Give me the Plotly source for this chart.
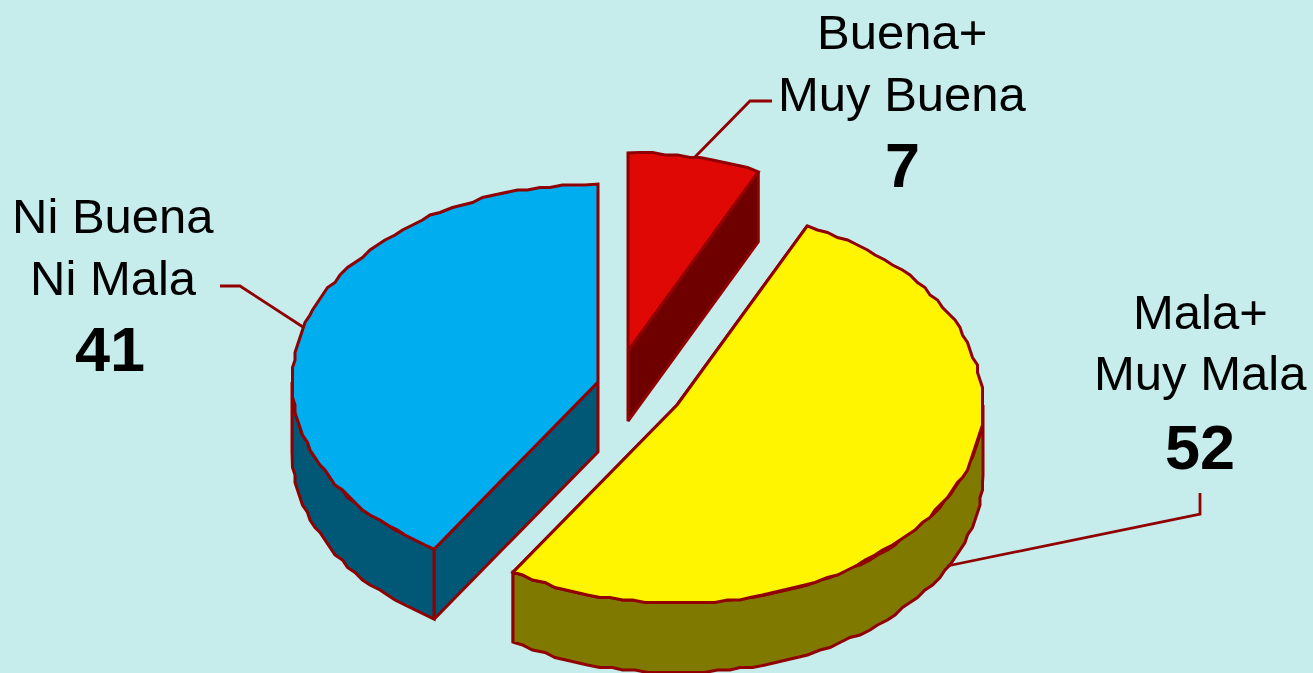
import numpy as np
import plotly.graph_objects as go

categories = ["Buena+ Muy Buena", "Mala+ Muy Mala", "Ni Buena Ni Mala"]
values = [7, 52, 41]
label_lines = [["Buena+", "Muy Buena"], ["Mala+", "Muy Mala"], ["Ni Buena", "Ni Mala"]]

top_colors = ["#DF0805", "#FFF500", "#00ADEE"]
side_colors = ["#6E0000", "#7F7900", "#005776"]
BORDER = "#900000"
BG = "#C6ECEB"

RX, RY, DEPTH = 306, 198, 70
apexes = [(628, 351), (677, 405), (598, 382)]


def rim(a, apex):
    return (apex[0] + RX * np.sin(a), apex[1] - RY * np.cos(a))


def arc(a0, a1, apex, dy=0):
    n = max(2, int(abs(a1 - a0) / np.radians(2.2)) + 1)
    aa = np.linspace(a0, a1, n)
    x, y = rim(aa, apex)
    # the reference outline is a coarse, slightly wavering polyline
    x, y = np.round(x / 2.5) * 2.5, np.round(y / 2.5) * 2.5
    x[0], y[0] = rim(a0, apex)
    x[-1], y[-1] = rim(a1, apex)
    return x, y + dy


def poly(fig, x, y, fill, name):
    fig.add_trace(go.Scatter(
        x=list(x) + [x[0]], y=list(y) + [y[0]], mode="lines", fill="toself", fillcolor=fill,
        line=dict(color=BORDER, width=3), name=name, showlegend=False, hoverinfo="name",
    ))


fig = go.Figure()
fractions = np.cumsum([0] + values) / sum(values) * 2 * np.pi
for i in range(len(values)):
    a0, a1 = fractions[i], fractions[i + 1]
    ax, ay = apexes[i]
    name = f"{categories[i]}: {values[i]}"
    # radial cut walls
    for a in (a0, a1):
        rx, ry = rim(a, apexes[i])
        if abs(rx - ax) > 1:
            poly(fig, [ax, rx, rx, ax], [ay, ry, ry + DEPTH, ay + DEPTH], side_colors[i], name)
    # outer wall: only the front half of the rim is visible
    lo, hi = max(a0, np.pi / 2), min(a1, 3 * np.pi / 2)
    if hi > lo:
        xt, yt = arc(lo, hi, apexes[i])
        xb, yb = arc(lo, hi, apexes[i], DEPTH)
        poly(fig, np.r_[xt, xb[::-1]], np.r_[yt, yb[::-1]], side_colors[i], name)
    # top face
    xt, yt = arc(a0, a1, apexes[i])
    poly(fig, np.r_[ax, xt], np.r_[ay, yt], top_colors[i], name)

# leader lines
leaders_x = [[694, 750, 772], [947, 1200, 1200], [303, 240, 220]]
leaders_y = [[158, 101, 101], [566, 514, 493], [327, 286, 286]]
for lx, ly in zip(leaders_x, leaders_y):
    fig.add_trace(go.Scatter(x=lx, y=ly, mode="lines", line=dict(color=BORDER, width=2.8),
                             showlegend=False, hoverinfo="skip"))

text_x = [902, 1200, 113]
line_y = [[32, 94], [312, 373], [216, 278]]
value_y = [165, 447, 349]
value_x = [902, 1200, 110]
annotations = []
for i in range(3):
    for t, y in zip(label_lines[i], line_y[i]):
        annotations.append(dict(x=text_x[i], y=y, text=t, showarrow=False, xanchor="center", yanchor="middle",
                                font=dict(family="Liberation Sans", size=49, color="black")))
    annotations.append(dict(x=value_x[i], y=value_y[i], text=f"<b>{values[i]}</b>", showarrow=False,
                            xanchor="center", yanchor="middle",
                            font=dict(family="Liberation Sans", size=63, color="black")))

fig.update_layout(
    width=1313, height=673, margin=dict(l=0, r=0, t=0, b=0), autosize=False,
    paper_bgcolor=BG, plot_bgcolor=BG, showlegend=False, annotations=annotations,
    xaxis=dict(range=[0, 1313], visible=False, fixedrange=True),
    yaxis=dict(range=[673, 0], visible=False, fixedrange=True),
)
fig.write_html("out.html", config=dict(displayModeBar=False),
               post_script="document.body.style.margin='0';document.body.style.overflow='hidden';")
